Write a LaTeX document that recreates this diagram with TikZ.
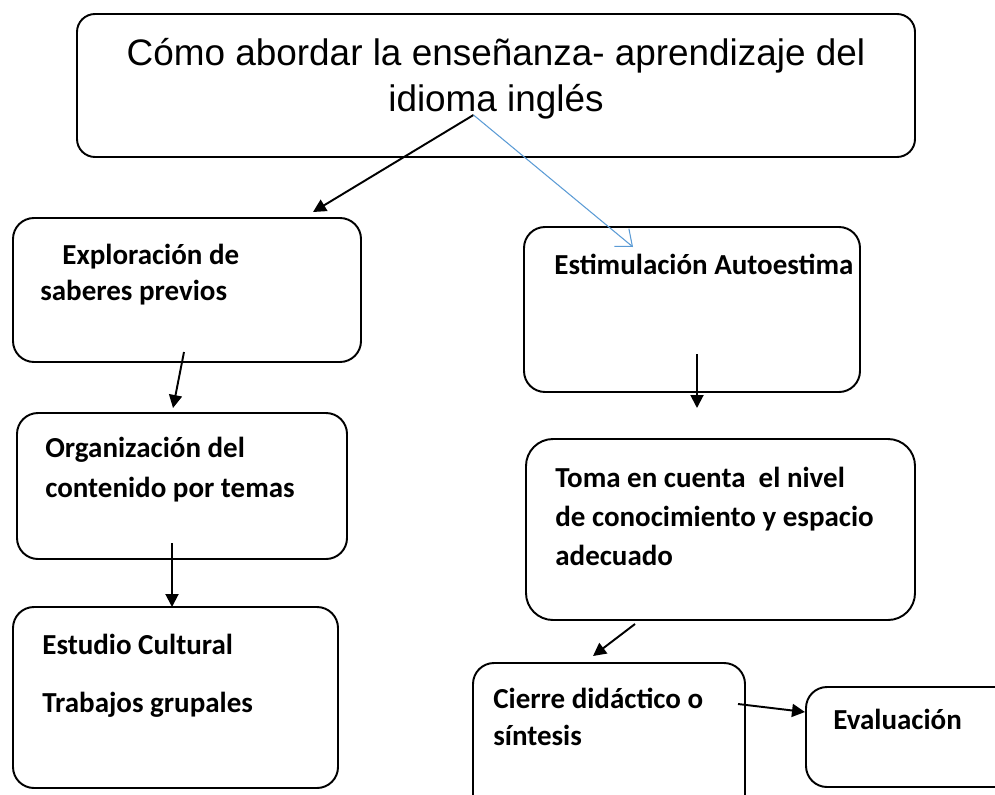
\documentclass[tikz,border=0pt]{standalone}
\usepackage{fontspec}
\setmainfont{Carlito}
\newfontfamily\titlefont{Liberation Sans}
\usetikzlibrary{positioning,arrows.meta}
\definecolor{linkblue}{HTML}{5B9BD5}

\begin{document}
\begin{tikzpicture}[
    box/.style={draw, line width=1.1pt, rounded corners=0.42cm, inner sep=0pt},
    txt/.style={anchor=base west, align=left, inner sep=0pt, font=\bfseries\fontsize{16.5}{#1}\selectfont},
    txt/.default=20pt,
    arr/.style={-{Triangle[length=2.6mm,width=2.6mm]}, line width=1.1pt},
    bluearr/.style={-{Straight Barb[length=2.8mm,width=4.6mm]}, linkblue, line width=0.6pt}]
  \useasboundingbox (0,0) rectangle (19.9,-15.88);
  \clip (0,0) rectangle (19.9,-15.88);
  % boxes
  \node[box, rounded corners=0.36cm, minimum width=16.76cm, minimum height=2.86cm] (top) at (9.92,-1.71) {};
  \node[box, minimum width=6.96cm, minimum height=2.88cm] (explo)  at (3.74,-5.80)  {};
  \node[box, minimum width=6.60cm, minimum height=2.92cm] (organ)  at (3.64,-9.72)  {};
  \node[box, minimum width=6.50cm, minimum height=3.62cm] (estud)  at (3.51,-13.95) {};
  \node[box, minimum width=6.72cm, minimum height=3.30cm] (estim)  at (13.84,-6.19) {};
  \node[box, rounded corners=0.54cm, minimum width=7.78cm, minimum height=3.62cm] (toma) at (14.41,-10.59) {};
  \node[box, minimum width=5.44cm, minimum height=3.14cm] (cierre) at (12.18,-14.83) {};
  \node[box, minimum width=4.28cm, minimum height=2.00cm] (eval)   at (18.26,-14.74) {};
  % texts (anchored at the baseline of their last line)
  \node[anchor=base, align=center, inner sep=0pt, font=\titlefont\fontsize{21}{26.6}\selectfont] (toptxt) at (9.92,-2.24)
    {Cómo abordar la enseñanza- aprendizaje del\\idioma inglés};
  \node[txt=20.4pt] (explotxt)  at (0.80,-6.00)  {\hspace*{0.44cm}Exploración de\\saberes previos};
  \node[txt=22.7pt] (organtxt)  at (0.90,-9.94)  {Organización del\\contenido por temas};
  \node[txt=32.9pt] (estudtxt)  at (0.84,-14.24) {Estudio Cultural\\Trabajos grupales};
  \node[txt]        (estimtxt)  at (11.08,-5.48) {Estimulación Autoestima};
  \node[txt=22.1pt] (tomatxt)   at (11.10,-11.30) {Toma en cuenta \ el nivel\\de conocimiento y espacio\\adecuado};
  \node[txt=21pt]   (cierretxt) at (9.86,-14.90) {Cierre didáctico o\\síntesis};
  \node[txt]        (evaltxt)   at (16.66,-14.58) {Evaluación};
  % connector ends
  \coordinate (topout)    at (9.47,-2.30);
  \coordinate (exploin)   at (6.26,-4.24);
  \coordinate (estimin)   at (12.66,-4.94);
  \coordinate (explout)   at (3.68,-7.04);
  \coordinate (organin)   at (3.46,-8.16);
  \coordinate (organout)  at (3.44,-10.86);
  \coordinate (estudin)   at (3.44,-12.14);
  \coordinate (estimout)  at (13.94,-7.08);
  \coordinate (tomain)    at (13.94,-8.16);
  \coordinate (tomaout)   at (12.70,-12.48);
  \coordinate (cierrein)  at (11.86,-13.12);
  \coordinate (cierreout) at (14.76,-14.08);
  \coordinate (evalin)    at (16.10,-14.24);
  % arrows
  \draw[arr] (topout) -- (exploin);
  \draw[bluearr] (topout) -- (estimin);
  \draw[arr] (explout) -- (organin);
  \draw[arr] (organout) -- (estudin);
  \draw[arr] (estimout) -- (tomain);
  \draw[arr] (tomaout) -- (cierrein);
  \draw[arr] (cierreout) -- (evalin);
\end{tikzpicture}
\end{document}
